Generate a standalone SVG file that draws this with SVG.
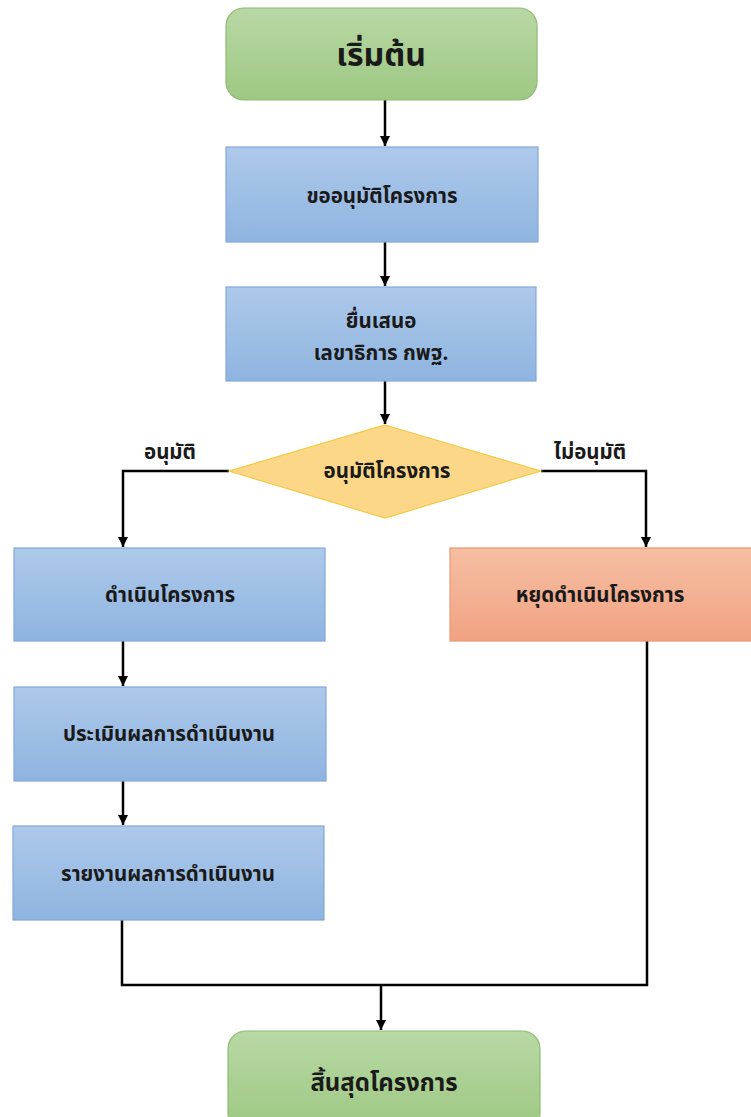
<svg xmlns="http://www.w3.org/2000/svg" width="751" height="1117" viewBox="0 0 751 1117">
<defs>
<linearGradient id="gGreen" x1="0" y1="0" x2="0" y2="1"><stop offset="0" stop-color="#b8d8a5"/><stop offset="1" stop-color="#9dc882"/></linearGradient>
<linearGradient id="gBlue" x1="0" y1="0" x2="0" y2="1"><stop offset="0" stop-color="#adc9ea"/><stop offset="1" stop-color="#8fb4e0"/></linearGradient>
<linearGradient id="gOrange" x1="0" y1="0" x2="0" y2="1"><stop offset="0" stop-color="#f6bea2"/><stop offset="1" stop-color="#f1a383"/></linearGradient>
<marker id="arr" viewBox="0 0 10 10" refX="10" refY="5" markerWidth="4" markerHeight="4" orient="auto" markerUnits="strokeWidth"><path d="M0,0 L10,5 L0,10 Z" fill="#000"/></marker>
<style>
.green{fill:url(#gGreen);stroke:#8fbb73;stroke-width:1.2}
.blue{fill:url(#gBlue);stroke:#82a9d8;stroke-width:1.2}
.orange{fill:url(#gOrange);stroke:#e99874;stroke-width:1.2}
.dia{fill:#fdd788;stroke:#f3c843;stroke-width:1.2}
text{font-family:"Noto Sans Thai","Noto Sans","DejaVu Sans",sans-serif;font-weight:bold;fill:#1a1a1a;text-anchor:middle;font-size:20.5px}
.big{font-size:32px}
.end{font-size:24px}
.conn{fill:none;stroke:#000;stroke-width:2.5}
</style>
</defs>
<g id="connectors">
<line class="conn" x1="385" y1="100" x2="385" y2="146" marker-end="url(#arr)"/>
<line class="conn" x1="385" y1="242" x2="385" y2="286" marker-end="url(#arr)"/>
<line class="conn" x1="385" y1="381" x2="385" y2="424" marker-end="url(#arr)"/>
<polyline class="conn" points="229,471 123,471 123,547" marker-end="url(#arr)"/>
<polyline class="conn" points="541,471 646,471 646,547" marker-end="url(#arr)"/>
<line class="conn" x1="123" y1="641" x2="123" y2="686" marker-end="url(#arr)"/>
<line class="conn" x1="123" y1="781" x2="123" y2="825" marker-end="url(#arr)"/>
<polyline class="conn" points="122,920 122,985 647,985 647,641"/>
<line class="conn" x1="381" y1="985" x2="381" y2="1030" marker-end="url(#arr)"/>
<text x="170" y="459">อนุมัติ</text>
<text x="590" y="459">ไม่อนุมัติ</text>
</g>
<g id="start"><rect class="green" x="226" y="8" width="311" height="92" rx="18"/><text class="big" x="381" y="66">เริ่มต้น</text></g>
<g id="request"><rect class="blue" x="226" y="147" width="312" height="95"/><text x="382" y="203">ขออนุมัติโครงการ</text></g>
<g id="submit"><rect class="blue" x="226" y="287" width="310" height="94"/><text x="381" y="328">ยื่นเสนอ</text><text x="381" y="360">เลขาธิการ กพฐ.</text></g>
<g id="decision"><polygon class="dia" points="385,425 541,471 385,518 229,471"/><text x="387" y="478">อนุมัติโครงการ</text></g>
<g id="run"><rect class="blue" x="14" y="548" width="311" height="93"/><text x="170" y="602">ดำเนินโครงการ</text></g>
<g id="stop"><rect class="orange" x="450" y="548" width="305" height="93"/><text x="600" y="602">หยุดดำเนินโครงการ</text></g>
<g id="evaluate"><rect class="blue" x="14" y="687" width="312" height="94"/><text x="169" y="741">ประเมินผลการดำเนินงาน</text></g>
<g id="report"><rect class="blue" x="13" y="826" width="311" height="94"/><text x="168" y="881">รายงานผลการดำเนินงาน</text></g>
<g id="end"><rect class="green" x="228" y="1031" width="312" height="100" rx="18"/><text class="end" x="384" y="1091">สิ้นสุดโครงการ</text></g>
</svg>
